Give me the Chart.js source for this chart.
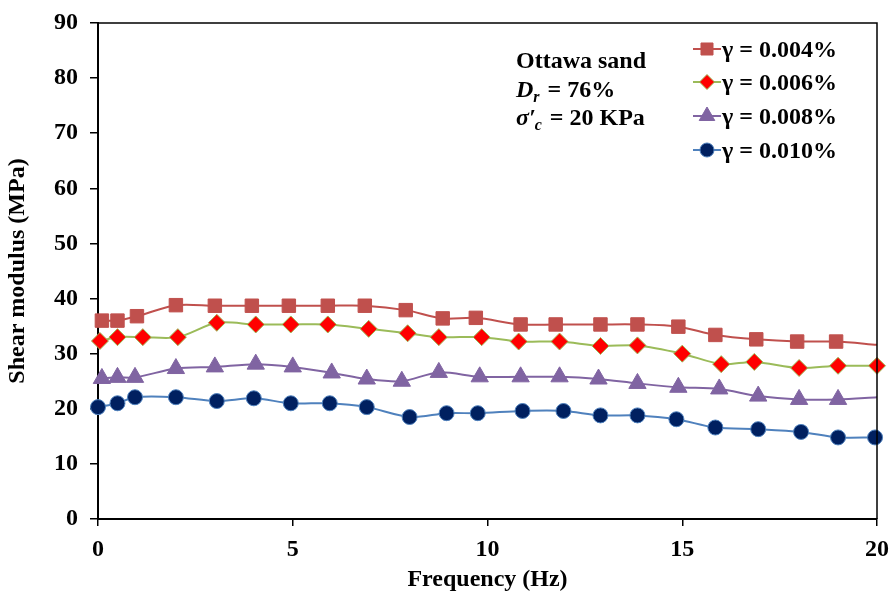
<!DOCTYPE html>
<html>
<head>
<meta charset="utf-8">
<title>Shear modulus vs frequency</title>
<script src="https://cdn.jsdelivr.net/npm/chart.js@4/dist/chart.umd.min.js"></script>
<style>
  html, body { margin: 0; padding: 0; background: #fff; }
  #wrap { width: 891px; height: 592px; position: relative; }
</style>
</head>
<body>
<div id="wrap"><canvas id="gChart"></canvas></div>
<script>
// frequency (Hz) and shear modulus (MPa) for each strain level
var freq004 = [0.1, 0.5, 1.0, 2.0, 3.0, 3.95, 4.9, 5.9, 6.85, 7.9, 8.85, 9.7, 10.85, 11.75, 12.9, 13.85, 14.9, 15.85, 16.9, 17.95, 18.95, 20];
var gmod004 = [36.0, 36.0, 36.8, 38.8, 38.7, 38.7, 38.7, 38.7, 38.7, 37.9, 36.4, 36.5, 35.3, 35.3, 35.3, 35.3, 34.9, 33.4, 32.6, 32.2, 32.2, 31.6];

var freq006 = [0.05, 0.5, 1.15, 2.05, 3.05, 4.05, 4.95, 5.9, 6.95, 7.95, 8.75, 9.85, 10.8, 11.85, 12.9, 13.85, 15.0, 16.0, 16.85, 18.0, 19.0, 20];
var gmod006 = [32.3, 33.0, 33.0, 33.0, 35.6, 35.3, 35.3, 35.3, 34.5, 33.7, 33.0, 33.0, 32.2, 32.2, 31.4, 31.5, 30.0, 28.1, 28.5, 27.4, 27.8, 27.8];

var freq008 = [0.1, 0.5, 0.95, 2.0, 3.0, 4.05, 5.0, 6.0, 6.9, 7.8, 8.75, 9.8, 10.85, 11.85, 12.85, 13.85, 14.9, 15.95, 16.95, 18.0, 19.0, 20];
var gmod008 = [25.5, 25.7, 25.7, 27.3, 27.6, 28.1, 27.6, 26.5, 25.4, 25.0, 26.6, 25.8, 25.8, 25.8, 25.4, 24.6, 23.9, 23.6, 22.3, 21.7, 21.7, 22.1];

var freq010 = [0.0, 0.5, 0.95, 2.0, 3.05, 4.0, 4.95, 5.95, 6.9, 8.0, 8.95, 9.75, 10.9, 11.95, 12.9, 13.85, 14.85, 15.85, 16.95, 18.05, 19.0, 19.95];
var gmod010 = [20.3, 21.0, 22.1, 22.1, 21.4, 21.9, 21.0, 21.0, 20.3, 18.5, 19.2, 19.2, 19.6, 19.6, 18.8, 18.8, 18.1, 16.6, 16.3, 15.8, 14.8, 14.8];

var seriesLabels = ['γ = 0.004%', 'γ = 0.006%', 'γ = 0.008%', 'γ = 0.010%'];
var xTicks = [0, 5, 10, 15, 20];
var yTicks = [0, 10, 20, 30, 40, 50, 60, 70, 80, 90];

var FONT = '"Liberation Serif", "Times New Roman", serif';

function pairs(xs, ys) {
  return xs.map(function (x, i) { return { x: x, y: ys[i] }; });
}

// hide the marker on the last point (line only runs out to 20 Hz)
function radii(n, r, hideLast) {
  var out = [];
  for (var i = 0; i < n; i++) out.push(hideLast && i === n - 1 ? 0 : r);
  return out;
}

var styles = [
  { line: '#C0504D', fill: '#C0504D', edge: '#C0504D', shape: 'rect', r: 9.5, lr: 8.5, edgeW: 1 },
  { line: '#9BBB59', fill: '#FF0000', edge: '#9BBB59', shape: 'rectRot', r: 8.5, lr: 7.5, edgeW: 1 },
  { line: '#8064A2', fill: '#8064A2', edge: '#8064A2', shape: 'triangle', r: 10, lr: 9, edgeW: 1 },
  { line: '#4F81BD', fill: '#002060', edge: '#4F81BD', shape: 'circle', r: 7.5, lr: 7, edgeW: 1 }
];

function makeSet(i, xs, ys, hideLast) {
  var s = styles[i];
  return {
    label: seriesLabels[i],
    data: pairs(xs, ys),
    borderColor: s.line,
    borderWidth: 2,
    backgroundColor: s.fill,
    pointStyle: s.shape,
    pointRadius: radii(xs.length, s.r, hideLast),
    pointBackgroundColor: s.fill,
    pointBorderColor: s.edge,
    pointBorderWidth: s.edgeW,
    pointHoverRadius: s.r,
    tension: 0.3,
    clip: false
  };
}

// small marker for the legend rows
function marker(ctx, s, x, y, r) {
  ctx.save();
  ctx.fillStyle = s.fill;
  ctx.strokeStyle = s.edge;
  ctx.lineWidth = s.edgeW;
  ctx.beginPath();
  if (s.shape === 'rect') {
    var h = r * Math.SQRT1_2;
    ctx.rect(x - h, y - h, 2 * h, 2 * h);
  } else if (s.shape === 'rectRot') {
    ctx.moveTo(x - r, y); ctx.lineTo(x, y - r); ctx.lineTo(x + r, y); ctx.lineTo(x, y + r);
    ctx.closePath();
  } else if (s.shape === 'triangle') {
    var a = 0;
    ctx.moveTo(x + Math.sin(a) * r, y - Math.cos(a) * r);
    a += Math.PI * 2 / 3;
    ctx.lineTo(x + Math.sin(a) * r, y - Math.cos(a) * r);
    a += Math.PI * 2 / 3;
    ctx.lineTo(x + Math.sin(a) * r, y - Math.cos(a) * r);
    ctx.closePath();
  } else {
    ctx.arc(x, y, r, 0, Math.PI * 2);
  }
  ctx.fill();
  ctx.stroke();
  ctx.restore();
}

// top and right edges of the plot frame
var frameBox = {
  id: 'frameBox',
  afterDraw: function (chart) {
    var a = chart.chartArea, ctx = chart.ctx;
    ctx.save();
    ctx.strokeStyle = '#000';
    ctx.lineWidth = 1.5;
    ctx.beginPath();
    ctx.moveTo(a.left, a.top);
    ctx.lineTo(a.right, a.top);
    ctx.lineTo(a.right, a.bottom);
    ctx.stroke();
    ctx.restore();
  }
};

// sample description text and the legend box
var notes = {
  id: 'notes',
  afterDraw: function (chart) {
    var ctx = chart.ctx;
    ctx.save();
    ctx.fillStyle = '#000';
    ctx.textBaseline = 'alphabetic';
    ctx.textAlign = 'left';

    var x0 = 516;
    ctx.font = 'bold 24px ' + FONT;
    ctx.fillText('Ottawa sand', x0, 68);

    // D_r = 76%
    ctx.font = 'italic bold 24px ' + FONT;
    ctx.fillText('D', x0, 97);
    var w = ctx.measureText('D').width;
    ctx.font = 'italic bold 16px ' + FONT;
    ctx.fillText('r', x0 + w, 102);
    w += ctx.measureText('r').width + 2;
    ctx.font = 'bold 24px ' + FONT;
    ctx.fillText(' = 76%', x0 + w, 97);

    // σ'_c = 20 KPa
    ctx.font = 'italic bold 24px ' + FONT;
    ctx.fillText('σ′', x0, 125);
    w = ctx.measureText('σ′').width;
    ctx.font = 'italic bold 16px ' + FONT;
    ctx.fillText('c', x0 + w - 1, 130);
    w += ctx.measureText('c').width + 1;
    ctx.font = 'bold 24px ' + FONT;
    ctx.fillText(' = 20 KPa', x0 + w, 125);

    // legend rows
    var rows = [49, 82, 116, 150];
    ctx.font = 'bold 24px ' + FONT;
    for (var i = 0; i < rows.length; i++) {
      var s = styles[i], y = rows[i];
      ctx.strokeStyle = s.line;
      ctx.lineWidth = 2;
      ctx.beginPath();
      ctx.moveTo(693, y);
      ctx.lineTo(721, y);
      ctx.stroke();
      marker(ctx, s, 707, y, s.lr);
      ctx.fillStyle = '#000';
      ctx.fillText(seriesLabels[i], 722, y + 8);
    }
    ctx.restore();
  }
};

var ctx = document.getElementById('gChart');
new Chart(ctx.getContext('2d'), {
  type: 'line',
  data: {
    datasets: [
      makeSet(0, freq004, gmod004, true),
      makeSet(1, freq006, gmod006, false),
      makeSet(2, freq008, gmod008, true),
      makeSet(3, freq010, gmod010, false)
    ]
  },
  options: {
    responsive: true,
    maintainAspectRatio: false,
    animation: false,
    layout: {
      padding: { top: 23, right: 14, left: 0, bottom: 0 }
    },
    plugins: {
      legend: { display: false },
      tooltip: { enabled: false }
    },
    scales: {
      x: {
        type: 'linear',
        min: 0,
        max: 20,
        afterFit: function (scale) {
          scale.height = 73;
          scale.paddingLeft = 0;
          scale.paddingRight = 0;
        },
        afterBuildTicks: function (scale) {
          scale.ticks = xTicks.map(function (v) { return { value: v }; });
        },
        ticks: {
          color: '#000',
          padding: 9,
          font: { family: FONT, size: 24, weight: 'bold' }
        },
        grid: {
          drawOnChartArea: false,
          drawTicks: true,
          tickLength: 7,
          color: '#000',
          lineWidth: 1.5
        },
        border: { color: '#000', width: 2 },
        title: {
          display: true,
          text: 'Frequency (Hz)',
          color: '#000',
          padding: { top: 0, bottom: 0 },
          font: { family: FONT, size: 24, weight: 'bold', lineHeight: 1 }
        }
      },
      y: {
        min: 0,
        max: 90,
        afterFit: function (scale) {
          scale.width = 98;
          scale.paddingTop = 0;
          scale.paddingBottom = 0;
        },
        afterBuildTicks: function (scale) {
          scale.ticks = yTicks.map(function (v) { return { value: v }; });
        },
        ticks: {
          color: '#000',
          padding: 12,
          font: { family: FONT, size: 24, weight: 'bold' }
        },
        grid: {
          drawOnChartArea: false,
          drawTicks: true,
          tickLength: 8,
          color: '#000',
          lineWidth: 1.5
        },
        border: { color: '#000', width: 2 },
        title: {
          display: true,
          text: 'Shear modulus (MPa)',
          color: '#000',
          padding: { top: 6, bottom: 0 },
          font: { family: FONT, size: 24, weight: 'bold', lineHeight: 1 }
        }
      }
    }
  },
  plugins: [frameBox, notes]
});
</script>
</body>
</html>
